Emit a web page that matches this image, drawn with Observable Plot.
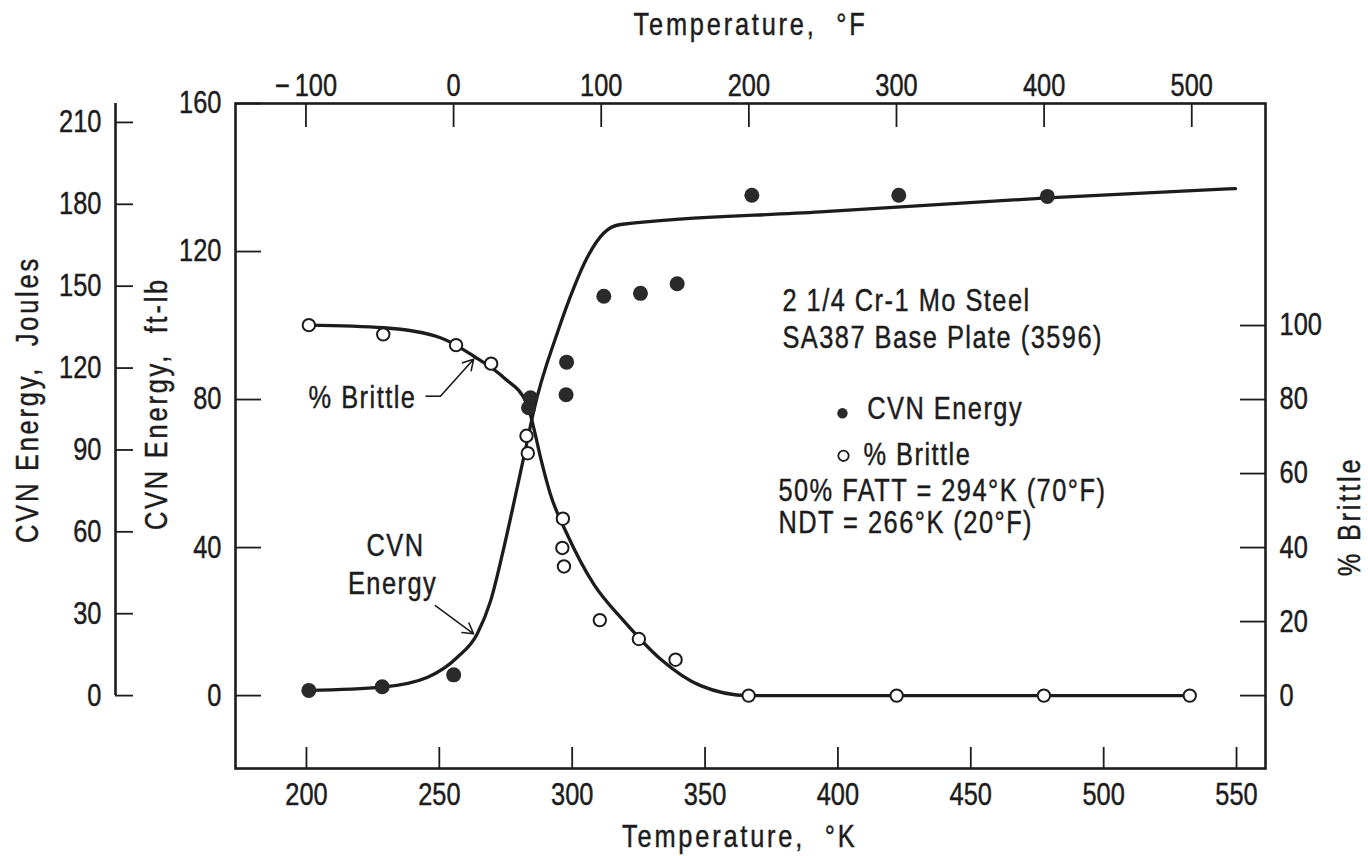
<!DOCTYPE html>
<html><head><meta charset="utf-8">
<script src="https://cdn.jsdelivr.net/npm/d3@7"></script>
<script src="https://cdn.jsdelivr.net/npm/@observablehq/plot@0.6"></script>
<style>
body{margin:0;background:#fff;}
#chart svg{display:block;}
#chart text{stroke:#1c1c1c;stroke-width:0.45px;}
#chart g[aria-label="text"].spaced text{letter-spacing:1.8px;}
#chart g[aria-label="text"].title text{letter-spacing:3.4px;}
</style></head><body><div id="chart"></div>
<script>
// ---- data ----
const cvnTempK   = [200.9, 228.5, 255.4, 284.3, 283.6, 297.9, 297.7, 311.9, 325.7, 339.5, 367.6, 422.9, 478.8];
const cvnEnergy  = [1.4, 2.4, 5.6, 80.5, 77.8, 90.1, 81.3, 107.9, 108.7, 111.3, 135.2, 135.2, 134.9];
const brittleTempK = [200.9, 228.9, 256.3, 269.5, 282.8, 283.3, 296.5, 296.3, 296.9, 310.4, 325.1, 338.9, 366.4, 422.1, 477.5, 532.4];
const brittlePct   = [100.1, 97.6, 94.7, 89.7, 70.2, 65.5, 47.8, 39.9, 34.9, 20.4, 15.3, 9.7, 0, 0, 0, 0];
const cvnCurveK  = [200.9, 228.5, 245.4, 256.7, 264.2, 269.3, 274.3, 279.3, 283.1, 285.5, 294.4, 300.6, 305.6, 311.9, 318.2, 393.4, 478.8, 549.6];
const cvnCurveE  = [1.4, 2.3, 4.9, 10.3, 16.6, 25.6, 40.0, 56.2, 68.8, 76.9, 98.0, 110.2, 118.3, 125.0, 127.3, 130.7, 134.5, 137.0];
const brCurveK   = [200.9, 229.1, 250.4, 263.0, 274.3, 283.1, 285.5, 288.1, 291.8, 298.1, 308.1, 319.4, 333.2, 348.3, 366.4, 532.4];
const brCurveP   = [100.1, 99.4, 96.7, 91.7, 85.9, 78.7, 72.4, 64.3, 54.4, 43.6, 30.1, 20.2, 9.9, 2.7, 0, 0];
const kTicks     = [200, 250, 300, 350, 400, 450, 500, 550];
const fTicks     = [-100, 0, 100, 200, 300, 400, 500];
const ftlbTicks  = [0, 40, 80, 120, 160];
const jouleTicks = [0, 30, 60, 90, 120, 150, 180, 210];
const brittleTicks = [0, 20, 40, 60, 80, 100];
const titles = {
  xBottom: "Temperature,  °K", xTop: "Temperature,  °F",
  yJoules: "CVN Energy,  Joules", yFtlb: "CVN Energy,  ft-lb", yRight: "% Brittle"
};
const legendLines = ["2 1/4 Cr-1 Mo Steel", "SA387 Base Plate (3596)"];
const legendItems = ["CVN Energy", "% Brittle"];
const noteLines = ["50% FATT = 294°K (70°F)", "NDT = 266°K (20°F)"];

// ---- layout ----
const W = 1368, H = 856;
const mL = 235, mR = 103, mT = 103, mB = 88;
const xDomain = [173.3, 560.9], yDomain = [-19.7, 160];
const pxPerK = (W - mL - mR) / (xDomain[1] - xDomain[0]);
const pxPerU = (H - mT - mB) / (yDomain[1] - yDomain[0]);
const kx = px => px / pxPerK;      // pixel length -> K units
const uy = px => px / pxPerU;      // pixel length -> ft-lb units
const J_PER_FTLB = 1.35582;
const fToK = f => (f - 32) * 5 / 9 + 273.15;
const ink = "#1c1c1c";
const font = '"Liberation Sans",Arial,sans-serif';
const FS = 31;
const NARROW = 0.82;   // horizontal squeeze to get a condensed face
const midY = (mT + (H - mB)) / 2;

const cvn = cvnTempK.map((k, i) => ({k, v: cvnEnergy[i]}));
const brittle = brittleTempK.map((k, i) => ({k, v: brittlePct[i]}));
const cvnCurve = cvnCurveK.map((k, i) => ({k, v: cvnCurveE[i]}));
const brCurve = brCurveK.map((k, i) => ({k, v: brCurveP[i]}));
const fLabel = f => f < 0 ? "\u2212\u2009" + (-f) : String(f);

// annotation placement (data units)
const headerText = [
  {t: legendLines[0], k: 379.1, v: 106.6},
  {t: legendLines[1], k: 379.1, v: 96.6},
  {t: legendItems[0], k: 411.0, v: 77.4},
  {t: legendItems[1], k: 409.6, v: 65.0},
  {t: noteLines[0], k: 377.6, v: 55.3},
  {t: noteLines[1], k: 377.6, v: 46.7}
];
const legendDot = [{k: 401.7, v: 76.3}];
const legendCircle = [{k: 402.1, v: 64.8}];
const annoText = [
  {t: "% Brittle", k: 221.1, v: 80.4},
  {t: "CVN", k: 233.5, v: 40.5},
  {t: "Energy", k: 232.4, v: 30.2}
];
const leaderLines = [{x1: 244.8, y1: 80.9, x2: 250.4, y2: 80.9}];
const arrows = [
  {x1: 250.4, y1: 80.9, x2: 262.9, y2: 90.9},
  {x1: 248.5, y1: 24.3, x2: 262.9, y2: 16.7}
];
const jouleAxisK = xDomain[0] - kx(120);

const tickStyle = {stroke: ink, strokeWidth: 1.8};
const txt = {fontSize: FS, fill: ink};

const plot = Plot.plot({
  width: W, height: H,
  marginLeft: mL, marginRight: mR, marginTop: mT, marginBottom: mB,
  x: {domain: xDomain, label: null, axis: null},
  y: {domain: yDomain, label: null, axis: null},
  style: {fontFamily: font, fontSize: FS + "px", color: ink, background: "#fff"},
  marks: [
    Plot.frame({stroke: ink, strokeWidth: 2.6}),
    // bottom K axis (ticks inside)
    Plot.ruleX(kTicks, {x: d => d, y1: yDomain[0], y2: yDomain[0] + uy(21), ...tickStyle}),
    Plot.text(kTicks, {x: d => d, frameAnchor: "bottom", dy: 27, lineAnchor: "middle", ...txt}),
    // top F axis
    Plot.ruleX(fTicks, {x: fToK, y1: yDomain[1], y2: yDomain[1] - uy(24), ...tickStyle}),
    Plot.text(fTicks, {x: fToK, text: fLabel, frameAnchor: "top", dy: -17, lineAnchor: "middle", ...txt}),
    // left ft-lb axis
    Plot.ruleY(ftlbTicks, {y: d => d, x1: xDomain[0], x2: xDomain[0] + kx(26), ...tickStyle}),
    Plot.text(ftlbTicks, {y: d => d, frameAnchor: "left", dx: -14, textAnchor: "end", lineAnchor: "middle", ...txt}),
    // outer Joules axis
    Plot.ruleX([jouleAxisK], {x: d => d, y1: 0, y2: 160, stroke: ink, strokeWidth: 2.6}),
    Plot.ruleY(jouleTicks, {y: j => j / J_PER_FTLB, x1: jouleAxisK, x2: jouleAxisK + kx(18), ...tickStyle}),
    Plot.text(jouleTicks, {y: j => j / J_PER_FTLB, frameAnchor: "left", dx: -134, textAnchor: "end", lineAnchor: "middle", ...txt}),
    // right % brittle axis (1 % = 1 unit on the ft-lb scale)
    Plot.ruleY(brittleTicks, {y: d => d, x1: xDomain[1] - kx(25), x2: xDomain[1], ...tickStyle}),
    Plot.text(brittleTicks, {y: d => d, frameAnchor: "right", dx: 14, textAnchor: "start", lineAnchor: "middle", ...txt}),
    // axis titles
    Plot.text([titles.xTop], {frameAnchor: "top-left", dx: 633 - mL, dy: 25 - mT, textAnchor: "start", lineAnchor: "middle", className: "title", ...txt}),
    Plot.text([titles.xBottom], {frameAnchor: "bottom-left", dx: 857 - mL, dy: 837 - (H - mB), textAnchor: "end", lineAnchor: "middle", className: "title", ...txt}),
    Plot.text([titles.yJoules], {frameAnchor: "left", dx: 28 - mL, dy: 399 - midY, rotate: -90, textAnchor: "middle", lineAnchor: "middle", className: "title", ...txt}),
    Plot.text([titles.yFtlb], {frameAnchor: "left", dx: 157 - mL, dy: 403 - midY, rotate: -90, textAnchor: "middle", lineAnchor: "middle", className: "title", ...txt}),
    Plot.text([titles.yRight], {frameAnchor: "right", dx: 1350 - (W - mR), dy: 516 - midY, rotate: -90, textAnchor: "middle", lineAnchor: "middle", className: "title", ...txt}),
    // fitted curves
    Plot.line(cvnCurve, {x: "k", y: "v", curve: "monotone-x", stroke: ink, strokeWidth: 3.3}),
    Plot.line(brCurve, {x: "k", y: "v", curve: "monotone-x", stroke: ink, strokeWidth: 3.3}),
    // data points
    Plot.dot(cvn, {x: "k", y: "v", r: 7.5, fill: "#2a2a2a", stroke: null}),
    Plot.dot(brittle, {x: "k", y: "v", r: 6.2, fill: "#fff", stroke: ink, strokeWidth: 2}),
    // annotations
    Plot.text(annoText, {x: "k", y: "v", text: "t", lineAnchor: "middle", className: "spaced", ...txt}),
    Plot.link(leaderLines, {x1: "x1", y1: "y1", x2: "x2", y2: "y2", stroke: ink, strokeWidth: 1.6}),
    Plot.arrow(arrows, {x1: "x1", y1: "y1", x2: "x2", y2: "y2", bend: 0, headLength: 11, stroke: ink, strokeWidth: 1.6}),
    // legend block
    Plot.text(headerText, {x: "k", y: "v", text: "t", textAnchor: "start", lineAnchor: "middle", className: "spaced", ...txt}),
    Plot.dot(legendDot, {x: "k", y: "v", r: 5.2, fill: "#2a2a2a"}),
    Plot.dot(legendCircle, {x: "k", y: "v", r: 5.2, fill: "#fff", stroke: ink, strokeWidth: 1.8})
  ]
});

// squeeze every label horizontally (condensed lettering like the original)
d3.select(plot).selectAll("text").each(function() {
  let t = this.getAttribute("transform");
  if (!t) {
    const x = parseFloat(this.getAttribute("x")) || 0;
    const yA = this.getAttribute("y");
    let y = 0;
    if (yA && !/em$/.test(yA)) { y = parseFloat(yA); this.removeAttribute("y"); }
    this.removeAttribute("x");
    t = `translate(${x},${y})`;
  }
  this.setAttribute("transform", t + ` scale(${NARROW},1)`);
});

document.getElementById("chart").appendChild(plot);
</script>
</body></html>
